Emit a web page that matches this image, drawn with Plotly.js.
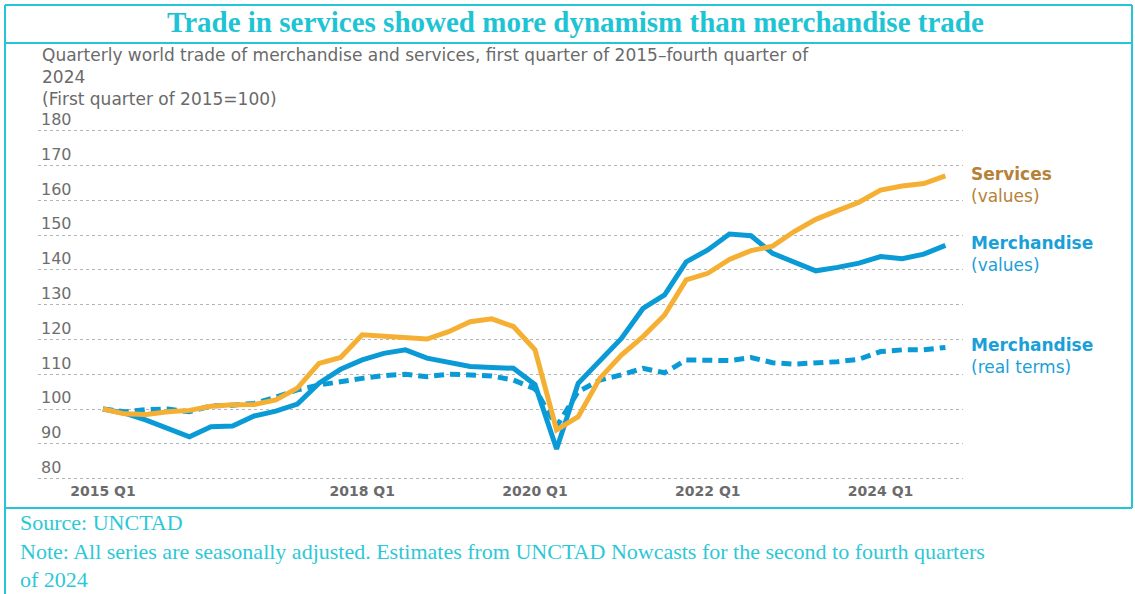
<!DOCTYPE html>
<html>
<head>
<meta charset="utf-8">
<script src="https://cdn.plot.ly/plotly-3.0.1.min.js"></script>
<style>
  body { margin: 0; background: #fff; }
  #chart { width: 1135px; height: 594px; }
</style>
</head>
<body>
<div id="chart"></div>
<script>
// quarters 2015 Q1 .. 2024 Q4
const quarters = [];
for (let y = 2015; y <= 2024; y++) {
    for (let q = 1; q <= 4; q++) quarters.push(y + ' Q' + q);
}

const services = [100, 98.6, 98.4, 99.2, 99.6, 100.8, 101.2, 101.3, 102.6, 106,
    113.1, 114.8, 121.3, 120.8, 120.5, 120.1, 122.2, 125.1, 125.9, 123.7,
    117, 94, 97.8, 108.8, 115.5, 120.8, 127, 137.1, 139, 143,
    145.5, 146.8, 151, 154.5, 157, 159.4, 162.9, 164.1, 164.8, 167];

const merchValues = [100, 98.8, 96.8, 94.4, 92, 94.9, 95.1, 98, 99.4, 101.4,
    107.4, 111.4, 114.1, 116, 117, 114.6, 113.3, 112.2, 111.9, 111.7,
    107, 88.5, 107.4, 114.1, 120.3, 128.9, 132.8, 142.3, 145.7, 150.3,
    149.8, 144.7, 142.3, 139.7, 140.7, 141.9, 143.8, 143.2, 144.5, 147];

const merchReal = [100, 99.2, 99.8, 100, 99.2, 100.9, 101.1, 101.6, 103.4, 105.5,
    106.9, 108, 108.8, 109.6, 110, 109.3, 110, 109.8, 109.5, 108.3,
    105.8, 95, 105, 108.3, 109.8, 111.7, 110.4, 114.1, 114.1, 113.9,
    114.8, 113.3, 112.9, 113.1, 113.6, 114.3, 116.5, 117, 117, 117.7];

const tickVals = ['2015 Q1', '2018 Q1', '2020 Q1', '2022 Q1', '2024 Q1'];
const yTicks = [80, 90, 100, 110, 120, 130, 140, 150, 160, 170, 180];

const orange = '#f5b034';
const blue = '#0a9bd7';
const cyan = '#22c6d6';

// page pixel -> paper coords
const W = 1135, H = 594;
const mL = 38, mR = 172, mT = 100, mB = 113;
const pw = W - mL - mR, ph = H - mT - mB;
function px(x) { return (x - mL) / pw; }
function py(y) { return (H - mB - y) / ph; }

const traces = [
    {
        x: quarters, y: merchValues, type: 'scatter', mode: 'lines',
        line: { color: blue, width: 5 }, hoverinfo: 'skip'
    },
    {
        x: quarters, y: merchReal, type: 'scatter', mode: 'lines',
        line: { color: blue, width: 5, dash: '10px,6px' }, hoverinfo: 'skip'
    },
    {
        x: quarters, y: services, type: 'scatter', mode: 'lines',
        line: { color: orange, width: 5 }, hoverinfo: 'skip'
    }
];

function hline(x0, x1, y) {
    return { type: 'line', xref: 'paper', yref: 'paper', x0: px(x0), x1: px(x1), y0: py(y), y1: py(y),
        line: { color: cyan, width: 2 } };
}
function vline(x, y0, y1) {
    return { type: 'line', xref: 'paper', yref: 'paper', x0: px(x), x1: px(x), y0: py(y0), y1: py(y1),
        line: { color: cyan, width: 2 } };
}

const layout = {
    width: W, height: H,
    margin: { l: mL, r: mR, t: mT, b: mB },
    paper_bgcolor: '#fff', plot_bgcolor: '#fff',
    showlegend: false,
    xaxis: {
        type: 'category',
        // 2015 Q1 sits at x=103px, one quarter = 21.6px
        range: [-(103 - mL) / 21.6, (W - mR - 103) / 21.6],
        tickvals: tickVals,
        ticktext: tickVals,
        showgrid: false, zeroline: false, showline: false, ticks: '',
        tickfont: { family: 'DejaVu Sans', size: 14, color: '#6b6b6b', weight: 'bold' }
    },
    yaxis: {
        // 100 at y=409px, 3.48px per unit
        range: [100 - (H - mB - 409) / 3.48, 100 + (409 - mT) / 3.48],
        tickvals: yTicks,
        ticklabelposition: 'inside top',
        showgrid: true, gridcolor: '#b5b5b5', griddash: 'dot', gridwidth: 1,
        zeroline: false, showline: false, ticks: '',
        tickfont: { family: 'DejaVu Sans', size: 16, color: '#6e6e6e' }
    },
    shapes: [
        hline(5, 1132, 5),
        hline(5, 1132, 43),
        hline(5, 1132, 508),
        vline(5, 5, 594),
        vline(1132, 5, 508)
    ],
    annotations: [
        {
            xref: 'paper', yref: 'paper', x: px(575), y: py(22), xanchor: 'center', yanchor: 'middle',
            text: '<b>Trade in services showed more dynamism than merchandise trade</b>',
            showarrow: false,
            font: { family: 'Liberation Serif', size: 29, color: '#1ec4d3' }
        },
        {
            xref: 'paper', yref: 'paper', x: px(40), y: py(43), xanchor: 'left', yanchor: 'top', align: 'left',
            text: 'Quarterly world trade of merchandise and services, first quarter of 2015\u2013fourth quarter of<br>2024<br>(First quarter of 2015=100)',
            showarrow: false,
            font: { family: 'DejaVu Sans', size: 17, color: '#6a6a6a' }
        },
        {
            xref: 'paper', yref: 'y', x: px(969), y: 164.5, xanchor: 'left', yanchor: 'middle', align: 'left',
            text: '<b>Services</b><br>(values)', showarrow: false,
            font: { family: 'DejaVu Sans', size: 17, color: '#b5823a' }
        },
        {
            xref: 'paper', yref: 'y', x: px(969), y: 144.4, xanchor: 'left', yanchor: 'middle', align: 'left',
            text: '<b>Merchandise</b><br>(values)', showarrow: false,
            font: { family: 'DejaVu Sans', size: 17, color: '#1a9fd9' }
        },
        {
            xref: 'paper', yref: 'y', x: px(969), y: 115.1, xanchor: 'left', yanchor: 'middle', align: 'left',
            text: '<b>Merchandise</b><br>(real terms)', showarrow: false,
            font: { family: 'DejaVu Sans', size: 17, color: '#1a9fd9' }
        },
        {
            xref: 'paper', yref: 'paper', x: px(18), y: py(508), xanchor: 'left', yanchor: 'top', align: 'left',
            text: 'Source: UNCTAD<br>Note: All series are seasonally adjusted. Estimates from UNCTAD Nowcasts for the second to fourth quarters<br>of 2024',
            showarrow: false,
            font: { family: 'Liberation Serif', size: 22, color: '#2cc8d6' }
        }
    ]
};

Plotly.newPlot('chart', traces, layout, { staticPlot: true, displayModeBar: false });
</script>
</body>
</html>
